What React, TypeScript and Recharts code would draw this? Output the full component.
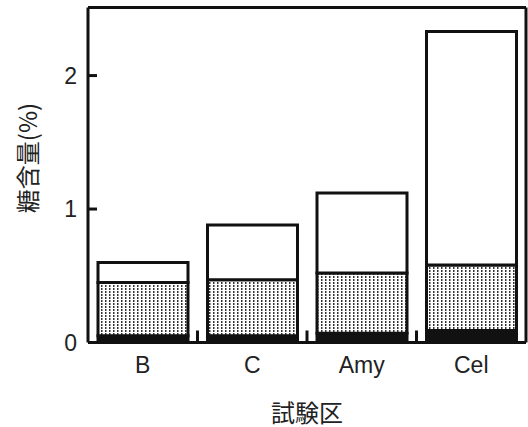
import React from 'react';
import { BarChart, Bar, XAxis, YAxis } from 'recharts';

const categories = ['B', 'C', 'Amy', 'Cel'];
const baseValues = [0.05, 0.05, 0.07, 0.09];
const dottedValues = [0.4, 0.42, 0.45, 0.49];
const whiteValues = [0.15, 0.41, 0.6, 1.75];
const yTicks = [0, 1, 2];
const rightTicks = [1, 2];
const boundaryTicks = [1, 2, 3];

const data = categories.map((name, i) => ({
  name,
  base: baseValues[i],
  dotted: dottedValues[i],
  white: whiteValues[i],
}));

const FONT = '"Liberation Sans", Arial, sans-serif';
const CJK = '"Noto Sans CJK JP", "Noto Sans", sans-serif';
const INK = '#111';

const NoLabel = () => <g />;

const YTitle: React.FC<any> = () => (
  <text
    x={26}
    y={158}
    transform="rotate(-90, 26, 158)"
    textAnchor="middle"
    dominantBaseline="central"
    fontFamily={CJK}
    fontSize={24}
    fill="#222"
  >
    糖含量(%)
  </text>
);

const XTitle: React.FC<any> = ({ viewBox }) => (
  <text
    x={viewBox.x + viewBox.width / 2}
    y={411}
    textAnchor="middle"
    dominantBaseline="central"
    fontFamily={CJK}
    fontSize={24}
    fill="#222"
  >
    試験区
  </text>
);

export default function App() {
  return (
    <div style={{ position: 'absolute', left: 0, top: 0, background: '#fff' }}>
      <BarChart
        width={528}
        height={427}
        data={data}
        margin={{ top: 6.5, right: 1, bottom: 0, left: 0 }}
      >
        <defs>
          <pattern id="stipple" width="4" height="3" patternUnits="userSpaceOnUse">
            <rect width="4" height="3" fill="#fff" />
            <rect x="1" y="0" width="1.5" height="2" fill="#333" />
          </pattern>
        </defs>
        <XAxis
          xAxisId="bnd"
          type="number"
          dataKey="pos"
          domain={[0, 4]}
          allowDataOverflow
          ticks={boundaryTicks}
          orientation="bottom"
          height={1}
          mirror
          axisLine={false}
          tick={NoLabel}
          tickSize={12}
          tickLine={{ stroke: INK, strokeWidth: 3 }}
        />
        <XAxis
          dataKey="name"
          xAxisId="main"
          height={84.5}
          axisLine={{ stroke: INK, strokeWidth: 3 }}
          tickLine={false}
          tickMargin={8}
          tick={{ fill: '#222', fontSize: 23, fontFamily: FONT }}
          label={<XTitle />}
        />
        <XAxis
          dataKey="name"
          xAxisId="top"
          orientation="top"
          height={1}
          axisLine={{ stroke: INK, strokeWidth: 3 }}
          tick={false}
          tickLine={false}
        />
        <YAxis
          yAxisId="left"
          width={88}
          domain={[0, 2.51]}
          ticks={yTicks}
          axisLine={{ stroke: INK, strokeWidth: 3 }}
          tickSize={-9}
          tickMargin={20}
          tickLine={{ stroke: INK, strokeWidth: 3 }}
          tick={{ fill: '#222', fontSize: 23, fontFamily: FONT }}
          label={<YTitle />}
        />
        <YAxis
          yAxisId="right"
          orientation="right"
          width={1}
          domain={[0, 2.51]}
          ticks={rightTicks}
          tickSize={-8}
          tick={NoLabel}
          axisLine={{ stroke: INK, strokeWidth: 3 }}
          tickLine={{ stroke: INK, strokeWidth: 3 }}
        />
        <Bar dataKey="base" stackId="a" xAxisId="main" yAxisId="left" barSize={90}
          fill={INK} stroke={INK} strokeWidth={3} isAnimationActive={false} />
        <Bar dataKey="dotted" stackId="a" xAxisId="main" yAxisId="left" barSize={90}
          fill="url(#stipple)" stroke={INK} strokeWidth={3} isAnimationActive={false} />
        <Bar dataKey="white" stackId="a" xAxisId="main" yAxisId="left" barSize={90}
          fill="#fff" stroke={INK} strokeWidth={3} isAnimationActive={false} />
      </BarChart>
    </div>
  );
}
